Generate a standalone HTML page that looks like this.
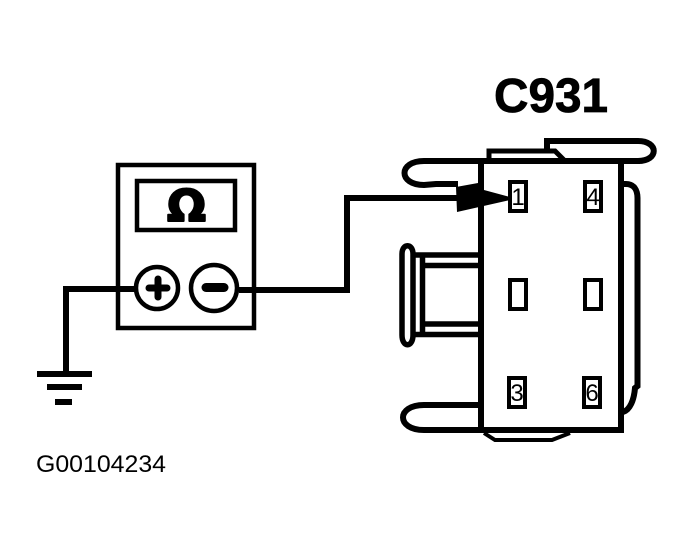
<!DOCTYPE html>
<html><head><meta charset="utf-8"><style>html,body{margin:0;padding:0;background:#fff}svg{display:block}</style></head><body>
<svg width="694" height="548" viewBox="0 0 694 548" xmlns="http://www.w3.org/2000/svg" font-family="'Liberation Sans',sans-serif">
<rect width="694" height="548" fill="#fff"/>
<g fill="none" stroke="#000" stroke-width="6">
<!-- meter -->
<rect x="118" y="165" width="136" height="163" stroke-width="4.500"/>
<rect x="137" y="181" width="98" height="49" stroke-width="4.500"/>
<circle cx="157" cy="288" r="21" stroke-width="4.500"/>
<circle cx="214" cy="288" r="23" stroke-width="4.500"/>
<!-- wires -->
<path d="M135 289H66V372"/>
<path d="M239 290H347V198H458"/>
<!-- connector body -->
<path d="M481 158V430M621 161V433M478 430H623"/>
<path d="M640 161H481"/>
<!-- top loops -->
<path d="M481 161H424C398 161 398 185 424 185L436 184H458"/>
<path d="M489 161V151H555L565 161" stroke-width="5"/>
<path d="M547 151V141H638C659 141 659 161 638 161"/>
<!-- right bracket -->
<path d="M622 184H626C634 184 637.500 190 637.500 198V386L635 388C634 400 630 410 623 412"/>
<!-- bottom loop -->
<path d="M481 405H424C396 405 396 430 424 430H481"/>
<path d="M484 433L495 440H552L570 433" stroke-width="4"/>
<!-- left latch -->
<path d="M402 335V254C402 243 413 243 413 254V335C413 348 402 348 402 335Z" stroke-width="5.500"/>
<path d="M422.500 253V335" stroke-width="5.500"/>
<path d="M414 255H479M423 265.500H479M423 324H479M414 334.500H479" stroke-width="5.500"/>
<!-- pins -->
<g stroke-width="4">
<rect x="510" y="182" width="16" height="29"/>
<rect x="585" y="182" width="16" height="29"/>
<rect x="510" y="280" width="16" height="29"/>
<rect x="585" y="280" width="16" height="29"/>
<rect x="509" y="378" width="16" height="29"/>
<rect x="584" y="378" width="16" height="29"/>
</g>
</g>
<!-- arrow -->
<polygon points="456,187 478,183 484,190 510,197 510,200 457,212" fill="#000"/>
<!-- ground -->
<rect x="37" y="371" width="55" height="6"/>
<rect x="47" y="384" width="35" height="6"/>
<rect x="55" y="399" width="17" height="6"/>
<!-- plus minus -->
<path d="M149 288H167M158 279V297" stroke="#000" stroke-width="7" stroke-linecap="round" fill="none"/>
<path d="M206 287.500H224" stroke="#000" stroke-width="9" stroke-linecap="round" fill="none"/>
<!-- text -->
<text x="167" y="221" font-family="'DejaVu Sans',sans-serif" font-size="44" font-weight="700" textLength="39" lengthAdjust="spacingAndGlyphs" stroke="#000" stroke-width="2" stroke-linejoin="round">Ω</text>
<text x="494" y="112" font-size="48" font-weight="700" textLength="114" lengthAdjust="spacingAndGlyphs" stroke="#000" stroke-width="0.800">C931</text>
<text x="36" y="472" font-size="24" textLength="130" lengthAdjust="spacingAndGlyphs">G00104234</text>
<g font-size="24" text-anchor="middle">
<text x="518" y="205">1</text>
<text x="593" y="205">4</text>
<text x="517" y="401">3</text>
<text x="592" y="401">6</text>
</g>
</svg>
</body></html>
